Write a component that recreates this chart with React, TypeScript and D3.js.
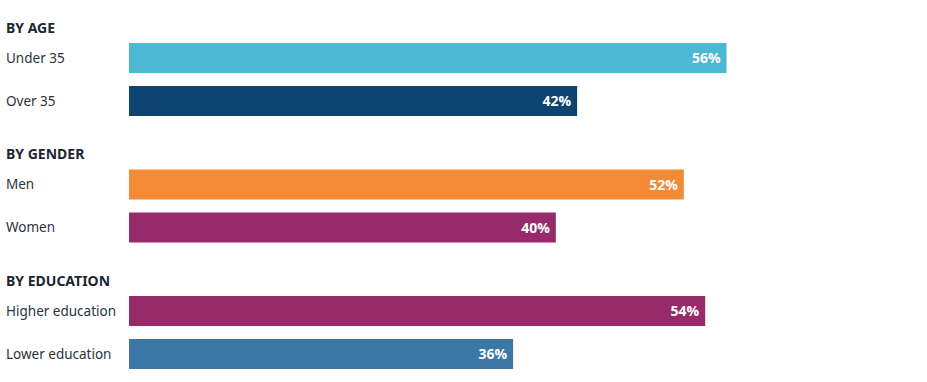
import React from "react";
import * as d3 from "d3";

const groups = ["BY AGE", "BY GENDER", "BY EDUCATION"];
const categories = [
  ["Under 35", "Over 35"],
  ["Men", "Women"],
  ["Higher education", "Lower education"],
];
const values = [
  [56, 42],
  [52, 40],
  [54, 36],
];
const colors = [
  ["#4db8d4", "#0d4470"],
  ["#f28a36", "#972a6a"],
  ["#972a68", "#3b78a6"],
];

const W = 927;
const H = 382;

export default function App() {
  const x = d3.scaleLinear().domain([0, 100]).range([129, 129 + 1067]);
  const groupY = d3.scaleLinear().domain([0, 1]).range([28, 154.5]);
  const barH = 30;
  const rowStep = 43;
  const fmt = (v: number) => `${v}%`;

  return (
    <svg
      width={W}
      height={H}
      style={{ position: "absolute", left: 0, top: 0, background: "#fff" }}
    >
      {groups.map((g, gi) => {
        const hy = groupY(gi);
        return (
          <g key={g}>
            <text
              x={6}
              y={hy}
              dy="0.35em"
              fontFamily="'Noto Sans', 'Open Sans', sans-serif"
              fontWeight={700}
              fontSize={14}
              fill="#1b2631"
            >
              {g}
            </text>
            {categories[gi].map((c, i) => {
              const top = hy + 15 + i * rowStep;
              const v = values[gi][i];
              return (
                <g key={c}>
                  <text
                    x={6}
                    y={top + barH / 2}
                    dy="0.35em"
                    fontFamily="'Noto Sans', 'Open Sans', sans-serif"
                    fontSize={13.5}
                    fill="#2a333c"
                  >
                    {c}
                  </text>
                  <rect
                    x={x(0)}
                    y={top}
                    width={x(v) - x(0)}
                    height={barH}
                    fill={colors[gi][i]}
                  />
                  <text
                    x={x(v) - 6}
                    y={top + barH / 2}
                    dy="0.36em"
                    textAnchor="end"
                    fontFamily="'Open Sans', sans-serif"
                    fontWeight={700}
                    fontSize={14}
                    fill="#ffffff"
                  >
                    {fmt(v)}
                  </text>
                </g>
              );
            })}
          </g>
        );
      })}
    </svg>
  );
}
